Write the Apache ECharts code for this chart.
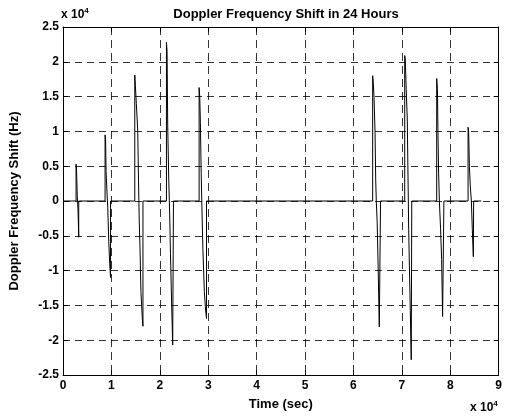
<!DOCTYPE html>
<html>
<head>
<meta charset="utf-8">
<script src="https://cdn.jsdelivr.net/npm/echarts@6/dist/echarts.min.js"></script>
<style>
html,body{margin:0;padding:0;background:#fff;}
#chart{width:505px;height:416px;}
</style>
</head>
<body>
<div id="chart"></div>
<script>
// Time axis ticks (sec) and frequency ticks (Hz)
const xTicks = [0, 10000, 20000, 30000, 40000, 50000, 60000, 70000, 80000, 90000];
const yTicks = [-25000, -20000, -15000, -10000, -5000, 0, 5000, 10000, 15000, 20000, 25000];

// Satellite passes: time (sec) and Doppler shift (Hz)
const p1Time  = [2700, 2700, 2800, 2950, 3100, 3250, 3250];
const p1Shift = [0, 5300, 4300, 700, -1200, -5200, 0];

const p2Time  = [8690, 8690, 8800, 8900, 9100, 9250, 9450, 9650, 9820, 9820];
const p2Shift = [0, 9500, 8800, 4200, 1000, -1000, -5800, -9000, -11000, 0];

const p3Time  = [14830, 14830, 14950, 15150, 15440, 15600, 15750, 15900, 16100, 16350, 16520, 16520];
const p3Shift = [0, 18100, 16600, 14000, 10100, 3000, -3000, -6500, -13000, -16500, -18000, 0];

const p4Time  = [21370, 21370, 21500, 21630, 21850, 22040, 22200, 22450, 22660, 22820, 22820];
const p4Shift = [0, 22800, 21500, 10800, 3000, -2000, -7500, -15000, -20700, -20700, 0];

const p5Time  = [28120, 28120, 28250, 28380, 28550, 28700, 28900, 29200, 29400, 29650, 29650];
const p5Shift = [0, 16300, 15000, 11300, 4000, -1000, -7000, -13000, -15200, -16900, 0];

const p6Time  = [63970, 63970, 64100, 64250, 64460, 64600, 64720, 64900, 65100, 65340, 65600, 65600];
const p6Shift = [0, 18000, 17000, 14900, 9900, 3000, 0, -3000, -9400, -18100, -18200, 0];

const p7Time  = [70590, 70590, 70700, 70900, 71120, 71300, 71410, 71740, 71940, 72050, 72050];
const p7Shift = [0, 20900, 20500, 16000, 11800, 2000, -4100, -15700, -22800, -22800, 0];

const p8Time  = [77200, 77200, 77350, 77460, 77600, 77750, 78000, 78220, 78420, 78690, 78690];
const p8Shift = [0, 17600, 16000, 9900, 4000, 0, -4000, -8400, -16600, -16600, 0];

const p9Time  = [83680, 83680, 83800, 83950, 84150, 84360, 84550, 84770, 84830, 84830];
const p9Shift = [0, 10600, 10000, 5000, 2000, 0, -4000, -8000, -8200, 0];

const dayStart = 0, dayEnd = 86400;

const passTimes  = [p1Time, p2Time, p3Time, p4Time, p5Time, p6Time, p7Time, p8Time, p9Time];
const passShifts = [p1Shift, p2Shift, p3Shift, p4Shift, p5Shift, p6Shift, p7Shift, p8Shift, p9Shift];

const lineData = [[dayStart, 0]];
passTimes.forEach((ts, k) => {
  ts.forEach((t, i) => lineData.push([t, passShifts[k][i]]));
});
lineData.push([dayEnd, 0]);

const FONT = 'Liberation Sans, Arial, sans-serif';
const fmt = v => String(Math.round(v / 1000) / 10);

const chart = echarts.init(document.getElementById('chart'), null, {renderer: 'canvas'});

const axisCommon = {
  type: 'value',
  axisLine: {show: true, onZero: false, lineStyle: {color: '#000', width: 1}},
  axisTick: {show: true, inside: true, length: 5, lineStyle: {color: '#000', width: 1}},
  splitLine: {show: false}
};
const tickFont = {fontFamily: FONT, fontSize: 12, fontWeight: 'bold', color: '#000'};
const nameFont = {fontFamily: FONT, fontSize: 13, fontWeight: 'bold', color: '#000'};

chart.setOption({
  animation: false,
  backgroundColor: '#fff',
  title: {
    text: 'Doppler Frequency Shift in 24 Hours',
    left: 281, top: 3, textAlign: 'center',
    textStyle: nameFont
  },
  grid: {left: 62, right: 4, top: 27, bottom: 41, containLabel: false},
  xAxis: [
    Object.assign({}, axisCommon, {
      min: xTicks[0], max: xTicks[xTicks.length - 1], interval: xTicks[1] - xTicks[0],
      position: 'bottom',
      axisLabel: Object.assign({show: true, formatter: fmt, margin: 5}, tickFont),
      splitLine: {show: true, lineStyle: {color: '#000', width: 0.8, type: [8, 5]}},
      name: 'Time (sec)', nameLocation: 'middle', nameGap: 23,
      nameTextStyle: nameFont
    }),
    Object.assign({}, axisCommon, {
      min: xTicks[0], max: xTicks[xTicks.length - 1], interval: xTicks[1] - xTicks[0],
      position: 'top', axisLabel: {show: false}
    })
  ],
  yAxis: [
    Object.assign({}, axisCommon, {
      min: yTicks[0], max: yTicks[yTicks.length - 1], interval: yTicks[1] - yTicks[0],
      position: 'left',
      axisLabel: Object.assign({show: true, formatter: fmt, margin: 4}, tickFont),
      splitLine: {show: true, lineStyle: {color: '#000', width: 0.8, type: [7, 5]}},
      name: 'Doppler Frequency Shift (Hz)', nameLocation: 'middle', nameGap: 42, nameRotate: 90,
      nameTextStyle: nameFont
    }),
    Object.assign({}, axisCommon, {
      min: yTicks[0], max: yTicks[yTicks.length - 1], interval: yTicks[1] - yTicks[0],
      position: 'right', axisLabel: {show: false}
    })
  ],
  graphic: [
    {
      type: 'text', left: 61, top: 7,
      style: {
        text: '{a|x 10}{b|4}',
        rich: {
          a: {fontFamily: FONT, fontSize: 12, fontWeight: 'bold', fill: '#000', verticalAlign: 'bottom'},
          b: {fontFamily: FONT, fontSize: 8, fontWeight: 'bold', fill: '#000', verticalAlign: 'top', padding: [0, 0, 6, 0]}
        }
      }
    },
    {
      type: 'text', left: 470, top: 400,
      style: {
        text: '{a|x 10}{b|4}',
        rich: {
          a: {fontFamily: FONT, fontSize: 12, fontWeight: 'bold', fill: '#000', verticalAlign: 'bottom'},
          b: {fontFamily: FONT, fontSize: 8, fontWeight: 'bold', fill: '#000', verticalAlign: 'top', padding: [0, 0, 6, 0]}
        }
      }
    }
  ],
  series: [{
    type: 'line',
    xAxisIndex: 0, yAxisIndex: 0,
    data: lineData,
    symbol: 'none',
    lineStyle: {color: '#000', width: 1},
    z: 5
  }]
});
</script>
</body>
</html>
